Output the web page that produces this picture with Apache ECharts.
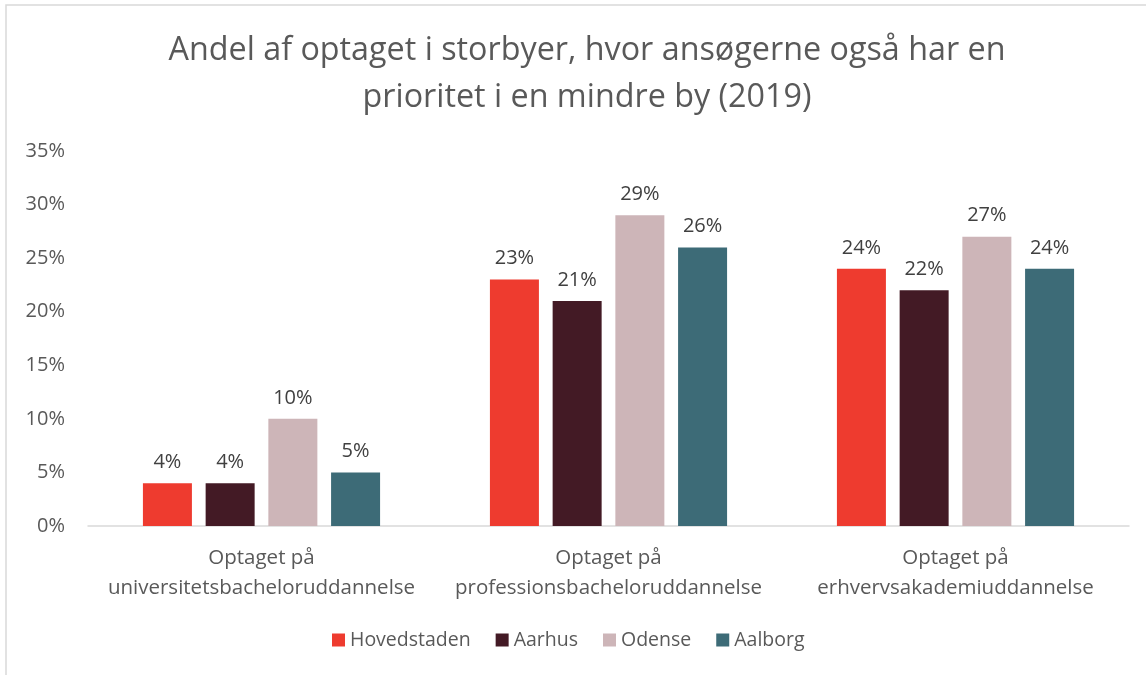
<!DOCTYPE html>
<html>
<head>
<meta charset="utf-8">
<script src="https://cdn.jsdelivr.net/npm/echarts@6/dist/echarts.min.js"></script>
<style>
  html,body{margin:0;padding:0;background:#fff;}
  #chart{width:1146px;height:675px;}
</style>
</head>
<body>
<div id="chart"></div>
<script>
var categories=["Optaget på\nuniversitetsbacheloruddannelse","Optaget på\nprofessionsbacheloruddannelse","Optaget på\nerhvervsakademiuddannelse"];
var seriesNames=["Hovedstaden","Aarhus","Odense","Aalborg"];
var hovedstaden=[4,23,24];
var aarhus=[4,21,22];
var odense=[10,29,27];
var aalborg=[5,26,24];
var yTicks=[0,5,10,15,20,25,30,35];
var colors=["#EE3B2F","#431A25","#CDB5B8","#3D6B77"];

var chart=echarts.init(document.getElementById('chart'));
var font="'Open Sans', sans-serif";
var allData=[hovedstaden,aarhus,odense,aalborg];
var series=[];
for(var i=0;i<seriesNames.length;i++)
{
  series.push({
    name:seriesNames[i],
    type:'bar',
    data:allData[i],
    barWidth:49,
    barGap:'28%',
    itemStyle:{color:colors[i]},
    label:{
      show:true,
      position:'top',
      distance:11,
      formatter:'{c}%',
      color:'#404040',
      fontSize:20,
      fontFamily:font
    }
  });
}
var option={
  animation:false,
  graphic:[{
    type:'rect',
    shape:{x:6,y:5,width:1160,height:700},
    style:{fill:'none',stroke:'#d9d9d9',lineWidth:1.5}
  }],
  title:{
    text:"Andel af optaget i storbyer, hvor ansøgerne også har en\nprioritet i en mindre by (2019)",
    left:582,
    textAlign:'center',
    top:22,
    textStyle:{
      color:'#595959',
      fontSize:32.3,
      fontWeight:'normal',
      fontFamily:font,
      lineHeight:47
    }
  },
  legend:{
    bottom:20,
    left:327,
    itemWidth:13,
    itemHeight:13,
    itemGap:25,
    icon:'rect',
    textStyle:{color:'#595959',fontSize:19.5,fontFamily:font,padding:[0,0,0,0]}
  },
  grid:{left:88,right:17,top:151,bottom:149,containLabel:false},
  xAxis:{
    type:'category',
    data:categories,
    axisLine:{lineStyle:{color:'#d9d9d9',width:1.5}},
    axisTick:{show:false},
    axisLabel:{interval:0,color:'#595959',fontSize:20.5,fontFamily:font,lineHeight:30,margin:17}
  },
  yAxis:{
    type:'value',
    min:yTicks[0],
    max:yTicks[yTicks.length-1],
    interval:5,
    splitLine:{show:false},
    axisLine:{show:false},
    axisTick:{show:false},
    axisLabel:{color:'#595959',fontSize:20,fontFamily:font,formatter:'{value}%',margin:23}
  },
  series:series
};
chart.setOption(option);
</script>
</body>
</html>
